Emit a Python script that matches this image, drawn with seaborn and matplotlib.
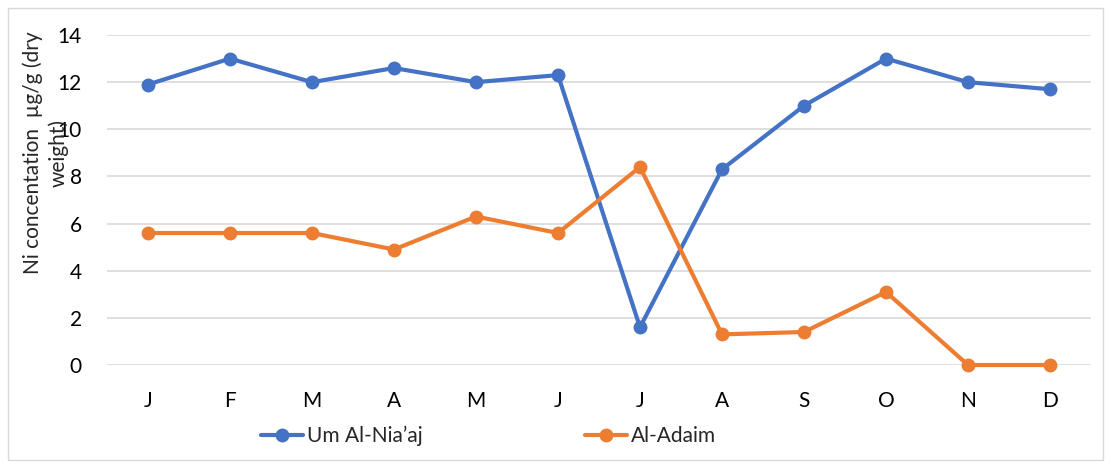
import numpy as np
import pandas as pd
import seaborn as sns
import matplotlib.pyplot as plt
from matplotlib.patches import Rectangle

months = ['J', 'F', 'M', 'A', 'M', 'J', 'J', 'A', 'S', 'O', 'N', 'D']
um_al_niaaj = [11.9, 13.0, 12.0, 12.6, 12.0, 12.3, 1.6, 8.3, 11.0, 13.0, 12.0, 11.7]
al_adaim = [5.6, 5.6, 5.6, 4.9, 6.3, 5.6, 8.4, 1.3, 1.4, 3.1, 0.0, 0.0]
series_names = ['Um Al-Nia\u2019aj', 'Al-Adaim']
colors = ['#4472C4', '#ED7D31']


def main():
    sns.set_style('white')
    plt.rcParams['font.family'] = ['Lato', 'DejaVu Sans']

    # long-form table for seaborn
    pos = np.arange(len(months))
    df = pd.DataFrame({
        'pos': np.concatenate([pos, pos]),
        'value': um_al_niaaj + al_adaim,
        'site': [series_names[0]] * len(months) + [series_names[1]] * len(months),
    })

    fig = plt.figure(figsize=(11.11, 4.67), dpi=100)
    ax = fig.add_axes([0.0963, 0.2184, 0.8857, 0.7066])

    sns.lineplot(data=df, x='pos', y='value', hue='site', palette=colors,
                 marker='o', markersize=10, markeredgewidth=0, linewidth=3,
                 ax=ax, legend=False, sort=False)
    for line in ax.lines:
        line.set_clip_on(False)

    ax.set_xlim(-0.5, len(months) - 0.5)
    ax.set_ylim(0, 14)
    ax.set_yticks(range(0, 15, 2))
    ax.set_xticks(pos)
    ax.set_xticklabels(months)
    ax.grid(axis='y', color='#d9d9d9', linewidth=1.2)
    ax.set_axisbelow(True)
    for s in ax.spines.values():
        s.set_visible(False)
    ax.tick_params(axis='both', length=0, labelsize=15, colors='#000000')
    ax.tick_params(axis='y', pad=18)
    ax.tick_params(axis='x', pad=19)
    ax.set_xlabel('')
    ax.set_ylabel('')

    # wrapped axis title, placed like the original (it runs into the tick labels)
    fig.text(0.041, 0.672, 'Ni concentation  \u00b5g/g (dry\nweight)',
             rotation=90, ha='center', va='center', fontsize=15,
             linespacing=1.35, multialignment='center')

    handles = [plt.Line2D([], [], color=c, marker='o', markersize=10,
                          markeredgewidth=0, linewidth=3) for c in colors]
    fig.legend(handles, series_names, loc='center', bbox_to_anchor=(0.44, 0.066),
               ncol=2, frameon=False, fontsize=15, handlelength=2.0,
               handletextpad=0.2, columnspacing=7.8)

    fig.patches.append(Rectangle((0.007, 0.015), 0.986, 0.968, transform=fig.transFigure,
                                 fill=False, edgecolor='#d9d9d9', linewidth=1))

    fig.savefig('out.png', dpi=100)


if __name__ == '__main__':
    main()
